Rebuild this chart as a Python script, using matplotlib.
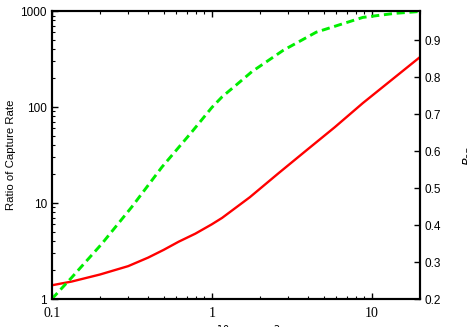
import matplotlib
matplotlib.use("Agg")
import matplotlib.pyplot as plt
from matplotlib.ticker import LogLocator, FixedLocator, NullFormatter, FormatStrFormatter

# intensity in 1e10 W/cm^2
red_I = [0.1, 0.133, 0.2, 0.3, 0.4, 0.5, 0.62, 0.79, 1.0, 1.16, 1.73, 2.61, 3.93, 5.87, 8.8, 20.0]
red_ratio = [1.39, 1.52, 1.80, 2.20, 2.70, 3.25, 3.95, 4.8, 6.0, 7.0, 11.5, 20.4, 35.7, 61.6, 110.0, 331.0]

green_I = [0.1, 0.133, 0.205, 0.316, 0.488, 0.75, 1.0, 1.16, 1.43, 1.78, 2.8, 4.5, 8.8, 14.0, 20.0]
green_val = [0.20, 0.258, 0.349, 0.449, 0.557, 0.652, 0.718, 0.747, 0.780, 0.815, 0.873, 0.922, 0.962, 0.973, 0.978]

right_ticks = [0.2, 0.3, 0.4, 0.5, 0.6, 0.7, 0.8, 0.9]

serif = ["Liberation Serif", "DejaVu Serif"]
sans = ["Liberation Sans", "DejaVu Sans"]

fig = plt.figure(figsize=(4.67, 3.27), dpi=100)
ax = fig.add_axes([0.111, 0.0856, 0.788, 0.8804])
ax2 = ax.twinx()

ax.plot(red_I, red_ratio, color="#ff0000", lw=1.7, zorder=3, solid_joinstyle="round")
ax2.plot(green_I, green_val, color="#00ee00", lw=2.1, ls=(0, (2.8, 1.6)))

ax.set_xscale("log")
ax.set_yscale("log")
ax.set_xlim(0.1, 20)
ax.set_ylim(1, 1000)
ax2.set_ylim(0.2, 0.979)

ax.xaxis.set_major_formatter(FormatStrFormatter("%g"))
ax.yaxis.set_major_formatter(FormatStrFormatter("%g"))
ax.xaxis.set_minor_formatter(NullFormatter())
ax.yaxis.set_minor_locator(LogLocator(subs=range(2, 10)))
ax.yaxis.set_minor_formatter(NullFormatter())
ax2.yaxis.set_major_locator(FixedLocator(right_ticks))
ax2.yaxis.set_major_formatter(FormatStrFormatter("%.1f"))

ax.tick_params(which="both", direction="in", top=True, right=False)
ax.tick_params(which="major", length=4, width=1)
ax.tick_params(which="minor", length=2.5, width=0.8)
ax.tick_params(axis="x", pad=6)
ax2.tick_params(direction="in", length=4, width=1)

for lab in ax.get_xticklabels():
    lab.set_family(serif)
    lab.set_fontsize(10)
for lab in ax.get_yticklabels():
    lab.set_family(sans)
    lab.set_fontsize(8.5)
for lab in ax2.get_yticklabels():
    lab.set_family(sans)
    lab.set_fontsize(8.5)

for sp in ax.spines.values():
    sp.set_linewidth(1.5)
for sp in ax2.spines.values():
    sp.set_linewidth(1.5)

ax.set_ylabel("Ratio of Capture Rate", family=sans, fontsize=8.2, labelpad=3)
ax.set_xlabel(r"$I\ (10^{10}\ \mathrm{W/cm}^{2})$", family=serif, fontsize=10, labelpad=2)
ax2.set_ylabel(r"$P_{3D}$", family=sans, fontsize=9, labelpad=15)

fig.savefig("out.png", dpi=100)
